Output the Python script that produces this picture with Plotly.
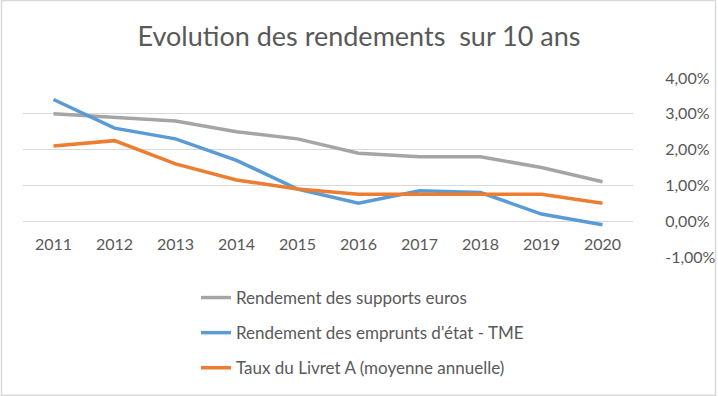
import plotly.graph_objects as go

years = ["2011", "2012", "2013", "2014", "2015", "2016", "2017", "2018", "2019", "2020"]
supports_euros = [3.0, 2.9, 2.8, 2.5, 2.3, 1.9, 1.8, 1.8, 1.5, 1.1]
emprunts_etat = [3.4, 2.6, 2.3, 1.7, 0.9, 0.5, 0.85, 0.8, 0.2, -0.1]
livret_a = [2.1, 2.25, 1.6, 1.15, 0.9, 0.75, 0.75, 0.75, 0.75, 0.5]
y_tick_values = [-1, 0, 1, 2, 3, 4]
y_tick_labels = ["-1,00%", "0,00%", "1,00%", "2,00%", "3,00%", "4,00%"]

names = ["Rendement des supports euros",
         "Rendement des emprunts d'état - TME",
         "Taux du Livret A (moyenne annuelle)"]
colors = ["#A5A5A5", "#5B9BD5", "#ED7D31"]
series = [supports_euros, emprunts_etat, livret_a]

W, H = 718, 396
L, R, T, B = 23, 85, 78.3, 139.3
pw = W - L - R
ph = H - T - B

fig = go.Figure()
for i, (n, c, s) in enumerate(zip(names, colors, series)):
    fig.add_trace(go.Scatter(x=years, y=s, name=n, mode="lines",
                             line=dict(color=c, width=3.5), legendgroup=str(i)))

font = "Lato, 'Open Sans', sans-serif"
fig.update_layout(
    width=W, height=H,
    margin=dict(l=L, r=R, t=T, b=B, autoexpand=False),
    paper_bgcolor="white", plot_bgcolor="white",
    font=dict(family=font, color="#595959", size=16),
    title=dict(text="Evolution des rendements&nbsp; sur 10 ans", x=0.5, xanchor="center",
               y=1 - 37 / H, yanchor="middle",
               font=dict(size=27, color="#595959", family=font)),
    xaxis=dict(type="category", range=[-0.5, 9.5], showgrid=False, zeroline=False,
               showline=False, anchor="free", position=(1.0 / 5.0), automargin=False,
               ticks="outside", ticklen=9, tickcolor="rgba(0,0,0,0)",
               tickfont=dict(size=16, color="#595959")),
    yaxis=dict(side="right", range=[-1, 4], tickmode="array",
               tickvals=y_tick_values, ticktext=y_tick_labels,
               showgrid=True, gridcolor="#D9D9D9", gridwidth=1, zeroline=False,
               showline=False, ticks="outside", ticklen=28, tickcolor="rgba(0,0,0,0)",
               automargin=False,
               tickfont=dict(size=16, color="#595959")),
    legend=dict(xref="container", yref="container", x=196 / W, xanchor="left",
                y=1 - 280 / H, yanchor="top",
                tracegroupgap=10, font=dict(size=17, color="#595959"),
                bgcolor="rgba(0,0,0,0)", itemwidth=30),
    showlegend=True,
)
fig.add_shape(type="rect", xref="paper", yref="paper",
              x0=(1.5 - L) / pw, x1=(715.5 - L) / pw,
              y0=(H - B - 394.5) / ph, y1=(H - B - 1) / ph,
              line=dict(color="#D9D9D9", width=1.5), layer="below")
fig.write_html("out.html", config={"displayModeBar": False},
               post_script="document.body.style.margin='0';document.body.style.padding='0';")
